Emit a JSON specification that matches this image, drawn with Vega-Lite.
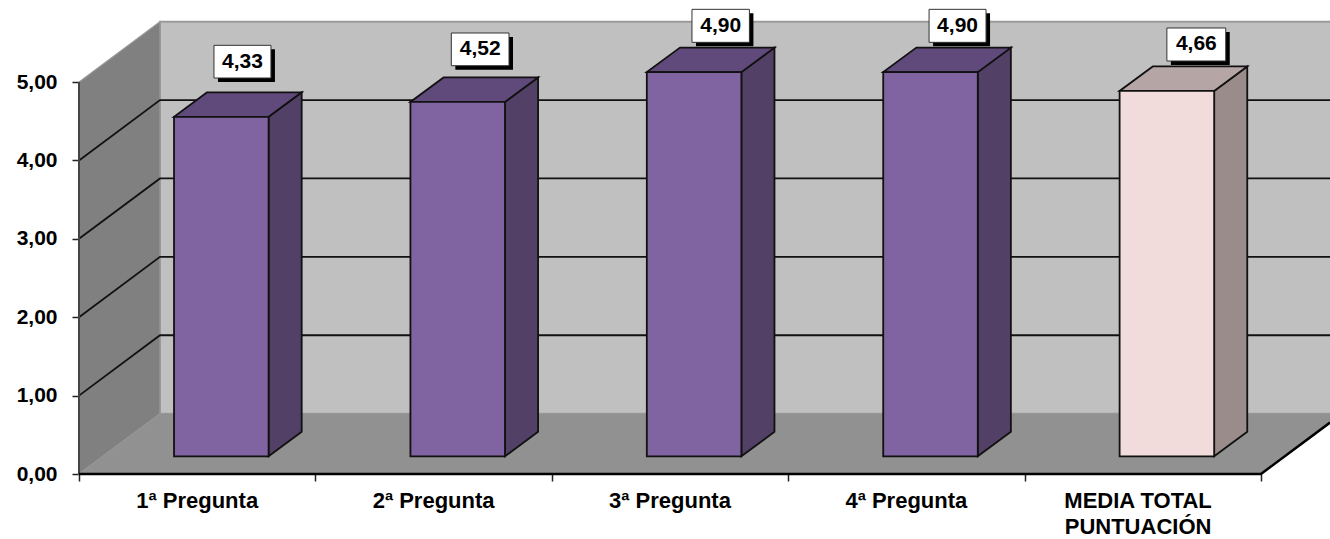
{"$schema":"https://vega.github.io/schema/vega-lite/v6.json","width":1251,"height":474,"autosize":"none","padding":{"left":79,"top":0,"right":0,"bottom":65},"background":"white","config":{"view":{"stroke":null},"locale":{"number":{"decimal":",","thousands":".","grouping":[3],"currency":["","€"]}},"text":{"font":"Liberation Sans"}},"resolve":{"scale":{"fill":"independent"}},"layer":[
{"data":{"values":[{"x":0.3426,"x2":5.3426,"y":0.77,"y2":5.77}]},"mark":{"type":"rect","fill":"#C0C0C0","stroke":"#9a9a9a","strokeWidth":2,"clip":true},"encoding":{"x":{"field":"x","type":"quantitative","title":null,"scale":{"domain":[0,5.292],"nice":false,"zero":false},"axis":{"values":[0,1,2,3,4,5],"labels":false,"domain":false,"grid":false,"ticks":true,"tickSize":7,"tickColor":"#222222","tickWidth":1.5,"title":null}},"x2":{"field":"x2"},"y":{"field":"y","type":"quantitative","title":null,"scale":{"domain":[0,6.046],"nice":false,"zero":false},"axis":{"values":[0,1,2,3,4,5],"format":".2f","domain":false,"grid":false,"ticks":true,"tickSize":7,"tickColor":"#222222","tickWidth":1.5,"labelFont":"Liberation Sans","labelFontWeight":"bold","labelFontSize":21,"labelColor":"#000000","labelPadding":15,"title":null}},"y2":{"field":"y2"}}},
{"data":{"values":[{"x":0,"y":0,"y2":5},{"x":0.3426,"y":0.77,"y2":5.77}]},"mark":{"type":"area","fill":"#808080","stroke":"#9a9a9a","strokeWidth":1.2},"encoding":{"x":{"field":"x","type":"quantitative","title":null,"scale":{"domain":[0,5.292],"nice":false,"zero":false}},"y":{"field":"y","type":"quantitative","title":null,"scale":{"domain":[0,6.046],"nice":false,"zero":false}},"y2":{"field":"y2"}}},
{"data":{"values":[{"y":0,"x":0,"x2":5},{"y":0.77,"x":0.3426,"x2":5.3426}]},"mark":{"type":"area","orient":"horizontal","fill":"#919191","clip":true},"encoding":{"x":{"field":"x","type":"quantitative","title":null,"scale":{"domain":[0,5.292],"nice":false,"zero":false}},"x2":{"field":"x2"},"y":{"field":"y","type":"quantitative","title":null,"scale":{"domain":[0,6.046],"nice":false,"zero":false}}}},
{"data":{"values":[
{"g":"1","o":1,"x":0,"y":1},{"g":"1","o":2,"x":0.3426,"y":1.77},{"g":"1","o":3,"x":5.292,"y":1.77},
{"g":"2","o":1,"x":0,"y":2},{"g":"2","o":2,"x":0.3426,"y":2.77},{"g":"2","o":3,"x":5.292,"y":2.77},
{"g":"3","o":1,"x":0,"y":3},{"g":"3","o":2,"x":0.3426,"y":3.77},{"g":"3","o":3,"x":5.292,"y":3.77},
{"g":"4","o":1,"x":0,"y":4},{"g":"4","o":2,"x":0.3426,"y":4.77},{"g":"4","o":3,"x":5.292,"y":4.77}]},"mark":{"type":"line","color":"#111111","strokeWidth":1.8},"encoding":{"x":{"field":"x","type":"quantitative","title":null,"scale":{"domain":[0,5.292],"nice":false,"zero":false}},"y":{"field":"y","type":"quantitative","title":null,"scale":{"domain":[0,6.046],"nice":false,"zero":false}},"detail":{"field":"g"},"order":{"field":"o"}}},
{"data":{"values":[{"x":0,"y":0},{"x":0,"y":5}]},"mark":{"type":"line","color":"#444444","strokeWidth":2},"encoding":{"x":{"field":"x","type":"quantitative","title":null,"scale":{"domain":[0,5.292],"nice":false,"zero":false}},"y":{"field":"y","type":"quantitative","title":null,"scale":{"domain":[0,6.046],"nice":false,"zero":false}},"order":{"field":"y"}}},
{"data":{"values":[{"o":1,"x":0,"y":0},{"o":2,"x":5,"y":0},{"o":3,"x":5.292,"y":0.656}]},"mark":{"type":"line","color":"#000000","strokeWidth":2.5},"encoding":{"x":{"field":"x","type":"quantitative","title":null,"scale":{"domain":[0,5.292],"nice":false,"zero":false}},"y":{"field":"y","type":"quantitative","title":null,"scale":{"domain":[0,6.046],"nice":false,"zero":false}},"order":{"field":"o"}}},
{"data":{"values":[
{"n":"1","t":"Pregunta","x":0.802,"y":0.226,"y2":4.556},{"n":"1","t":"Pregunta","x":0.942,"y":0.5385,"y2":4.8685},
{"n":"2","t":"Pregunta","x":1.802,"y":0.226,"y2":4.746},{"n":"2","t":"Pregunta","x":1.942,"y":0.5385,"y2":5.0585},
{"n":"3","t":"Pregunta","x":2.802,"y":0.226,"y2":5.126},{"n":"3","t":"Pregunta","x":2.942,"y":0.5385,"y2":5.4385},
{"n":"4","t":"Pregunta","x":3.802,"y":0.226,"y2":5.126},{"n":"4","t":"Pregunta","x":3.942,"y":0.5385,"y2":5.4385},
{"n":"5","t":"Media","x":4.802,"y":0.226,"y2":4.886},{"n":"5","t":"Media","x":4.942,"y":0.5385,"y2":5.1985}]},"mark":{"type":"area","stroke":"#111111","strokeWidth":1.8},"encoding":{"x":{"field":"x","type":"quantitative","title":null,"scale":{"domain":[0,5.292],"nice":false,"zero":false}},"y":{"field":"y","type":"quantitative","title":null,"scale":{"domain":[0,6.046],"nice":false,"zero":false}},"y2":{"field":"y2"},"detail":{"field":"n"},"fill":{"field":"t","type":"nominal","scale":{"domain":["Pregunta","Media"],"range":["#524066","#9A8C8B"]},"legend":null}}},
{"data":{"values":[
{"n":"1","t":"Pregunta","y":4.556,"x":0.402,"x2":0.802},{"n":"1","t":"Pregunta","y":4.8685,"x":0.542,"x2":0.942},
{"n":"2","t":"Pregunta","y":4.746,"x":1.402,"x2":1.802},{"n":"2","t":"Pregunta","y":5.0585,"x":1.542,"x2":1.942},
{"n":"3","t":"Pregunta","y":5.126,"x":2.402,"x2":2.802},{"n":"3","t":"Pregunta","y":5.4385,"x":2.542,"x2":2.942},
{"n":"4","t":"Pregunta","y":5.126,"x":3.402,"x2":3.802},{"n":"4","t":"Pregunta","y":5.4385,"x":3.542,"x2":3.942},
{"n":"5","t":"Media","y":4.886,"x":4.402,"x2":4.802},{"n":"5","t":"Media","y":5.1985,"x":4.542,"x2":4.942}]},"mark":{"type":"area","orient":"horizontal","stroke":"#111111","strokeWidth":1.8},"encoding":{"x":{"field":"x","type":"quantitative","title":null,"scale":{"domain":[0,5.292],"nice":false,"zero":false}},"x2":{"field":"x2"},"y":{"field":"y","type":"quantitative","title":null,"scale":{"domain":[0,6.046],"nice":false,"zero":false}},"detail":{"field":"n"},"fill":{"field":"t","type":"nominal","scale":{"domain":["Pregunta","Media"],"range":["#604A7B","#B5A5A4"]},"legend":null}}},
{"data":{"values":[
{"t":"Pregunta","x":0.402,"x2":0.802,"y":0.226,"y2":4.556},
{"t":"Pregunta","x":1.402,"x2":1.802,"y":0.226,"y2":4.746},
{"t":"Pregunta","x":2.402,"x2":2.802,"y":0.226,"y2":5.126},
{"t":"Pregunta","x":3.402,"x2":3.802,"y":0.226,"y2":5.126},
{"t":"Media","x":4.402,"x2":4.802,"y":0.226,"y2":4.886}]},"mark":{"type":"rect","stroke":"#111111","strokeWidth":1.8},"encoding":{"x":{"field":"x","type":"quantitative","title":null,"scale":{"domain":[0,5.292],"nice":false,"zero":false}},"x2":{"field":"x2"},"y":{"field":"y","type":"quantitative","title":null,"scale":{"domain":[0,6.046],"nice":false,"zero":false}},"y2":{"field":"y2"},"fill":{"field":"t","type":"nominal","scale":{"domain":["Pregunta","Media"],"range":["#8064A2","#F2DCDB"]},"legend":null}}},
{"data":{"name":"labels","values":[
{"value":4.33,"x":0.571,"x2":0.812,"xm":0.6915,"y":5.051,"y2":5.468,"ym":5.26},
{"value":4.52,"x":1.575,"x2":1.819,"xm":1.697,"y":5.208,"y2":5.625,"ym":5.417},
{"value":4.90,"x":2.593,"x2":2.836,"xm":2.7145,"y":5.506,"y2":5.927,"ym":5.716},
{"value":4.90,"x":3.596,"x2":3.837,"xm":3.7165,"y":5.506,"y2":5.927,"ym":5.716},
{"value":4.66,"x":4.602,"x2":4.851,"xm":4.7265,"y":5.268,"y2":5.689,"ym":5.479}]},"mark":{"type":"rect","fill":"#000000","xOffset":4,"x2Offset":4,"yOffset":4,"y2Offset":4},"encoding":{"x":{"field":"x","type":"quantitative","title":null,"scale":{"domain":[0,5.292],"nice":false,"zero":false}},"x2":{"field":"x2"},"y":{"field":"y","type":"quantitative","title":null,"scale":{"domain":[0,6.046],"nice":false,"zero":false}},"y2":{"field":"y2"}}},
{"data":{"name":"labels"},"mark":{"type":"rect","fill":"#FFFFFF","stroke":"#333333","strokeWidth":1},"encoding":{"x":{"field":"x","type":"quantitative","title":null,"scale":{"domain":[0,5.292],"nice":false,"zero":false}},"x2":{"field":"x2"},"y":{"field":"y","type":"quantitative","title":null,"scale":{"domain":[0,6.046],"nice":false,"zero":false}},"y2":{"field":"y2"}}},
{"data":{"name":"labels"},"mark":{"type":"text","font":"Liberation Sans","fontWeight":"bold","fontSize":21,"color":"#000000","align":"center","baseline":"middle"},"encoding":{"x":{"field":"xm","type":"quantitative","title":null,"scale":{"domain":[0,5.292],"nice":false,"zero":false}},"y":{"field":"ym","type":"quantitative","title":null,"scale":{"domain":[0,6.046],"nice":false,"zero":false}},"text":{"field":"value","type":"quantitative","format":".2f"}}},
{"data":{"values":[
{"name":"1ª Pregunta","x":0.5,"y":0},
{"name":"2ª Pregunta","x":1.5,"y":0},
{"name":"3ª Pregunta","x":2.5,"y":0},
{"name":"4ª Pregunta","x":3.5,"y":0},
{"name":"MEDIA TOTAL\nPUNTUACIÓN","x":4.48,"y":0}]},"mark":{"type":"text","font":"Liberation Sans","fontWeight":"bold","fontSize":22,"color":"#000000","align":"center","baseline":"top","dy":17,"lineBreak":"\n","lineHeight":26},"encoding":{"x":{"field":"x","type":"quantitative","title":null,"scale":{"domain":[0,5.292],"nice":false,"zero":false}},"y":{"field":"y","type":"quantitative","title":null,"scale":{"domain":[0,6.046],"nice":false,"zero":false}},"text":{"field":"name","type":"nominal"}}}
]}
